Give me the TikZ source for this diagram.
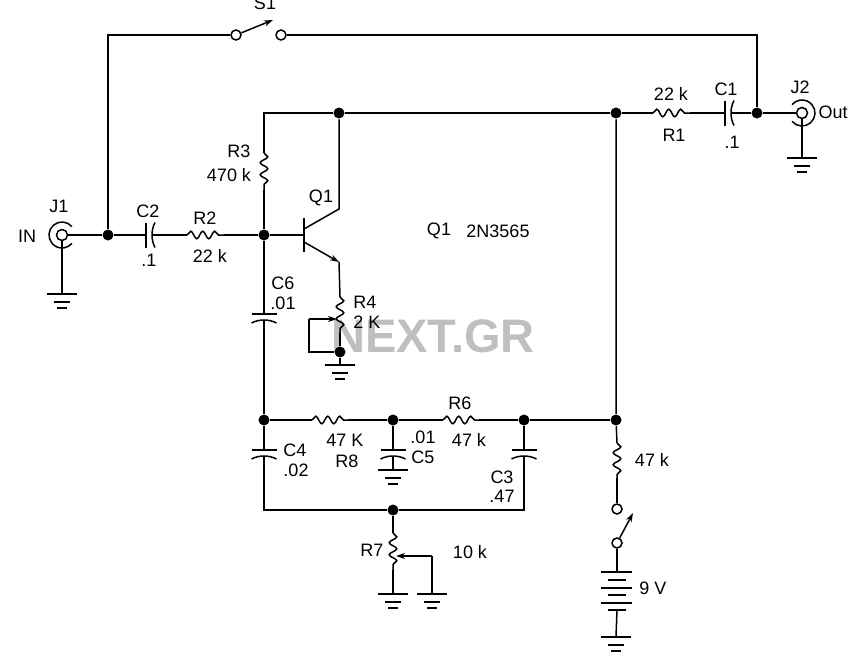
\documentclass[tikz,border=0pt]{standalone}
\usepackage{fontspec}
\setmainfont{Liberation Sans}
\usetikzlibrary{arrows.meta,positioning,calc,decorations.pathmorphing}

\begin{document}
\begin{tikzpicture}[x=1pt,y=-1pt,line width=1.5pt,
    font=\fontsize{18}{20}\selectfont]
\tikzset{
    dot/.style={circle,fill=black,inner sep=0pt,minimum size=11pt},
    term/.style={circle,draw,fill=white,inner sep=0pt,minimum size=10pt},
    jack/.style={circle,draw,fill=white,inner sep=0pt,minimum size=11pt},
    lbl/.style={inner sep=0pt},
    res/.style={decorate,decoration={snake,segment length=12,amplitude=3.8}},
    tip/.style={->,>={Stealth[length=9pt,width=6pt]}},
    gnd/.pic={
        \draw (-15,0) -- (15,0);
        \draw (-8,8) -- (8,8);
        \draw (-5,14) -- (5,14);
    },
    cap/.pic={
        \draw (-12.5,0) -- (12.5,0);
        \draw (-12.5,9) .. controls (-5,5) and (5,5) .. (12.5,9);
    }
}
\useasboundingbox (0,0) rectangle (865,669);
% junctions
\node[dot] (in) at (108,235) {};
\node[dot] (base) at (264,235) {};
\node[dot] (coll) at (339,113) {};
\node[dot] (rail) at (616,113) {};
\node[dot] (out) at (757,113) {};
\node[dot] (wipe) at (340,352) {};
\node[dot] (mid) at (264,420) {};
\node[dot] (c5top) at (393,420) {};
\node[dot] (c3top) at (524,420) {};
\node[dot] (sup) at (616,420) {};
\node[dot] (low) at (393,510) {};
% jacks and switch contacts
\node[jack] (j1) at (62,235) {};
\node[jack] (j2) at (802,113) {};
\node[term] (s1a) at (236,35) {};
\node[term] (s1b) at (281,35) {};
\node[term] (s2a) at (617,509) {};
\node[term] (s2b) at (617,543) {};
% corners and component ends
\coordinate (tl) at (108,35);
\coordinate (tr) at (757,35);
\coordinate (railL) at (264,113);
\coordinate (c2a) at (146,235);
\coordinate (c2b) at (153,235);
\coordinate (r2a) at (187,235);
\coordinate (r2b) at (224,235);
\coordinate (r3a) at (264,153);
\coordinate (r3b) at (264,190);
\coordinate (r1a) at (653,113);
\coordinate (r1b) at (690,113);
\coordinate (c1a) at (725,113);
\coordinate (c1b) at (732,113);
\coordinate (qb) at (304,235);
\coordinate (qc) at (304,229);
\coordinate (qe) at (304,242);
\coordinate (qcTop) at (339,209);
\coordinate (qeEnd) at (339,262);
\coordinate (r4a) at (340,297);
\coordinate (r4b) at (340,333);
\coordinate (r4w) at (337,319);
\coordinate (r4l) at (309,319);
\coordinate (c6a) at (264,314);
\coordinate (c6b) at (264,320);
\coordinate (c4a) at (264,450);
\coordinate (c4b) at (264,456);
\coordinate (c5a) at (393,450);
\coordinate (c5b) at (393,456);
\coordinate (c3a) at (524,450);
\coordinate (c3b) at (524,456);
\coordinate (r8a) at (312,420);
\coordinate (r8b) at (348,420);
\coordinate (r6a) at (443,420);
\coordinate (r6b) at (479,420);
\coordinate (lowL) at (264,510);
\coordinate (lowR) at (524,510);
\coordinate (r7a) at (393,533);
\coordinate (r7b) at (393,570);
\coordinate (r7w) at (396,556);
\coordinate (r7r) at (432,556);
\coordinate (r5a) at (617,443);
\coordinate (r5b) at (617,478);
\coordinate (g1) at (62,294);
\coordinate (g2) at (802,158);
\coordinate (g3) at (340,365);
\coordinate (g4) at (393,470);
\coordinate (g5) at (393,594);
\coordinate (g6) at (432,594);
\coordinate (g7) at (616,637);
\coordinate (bat) at (617,572);
\coordinate (batEnd) at (617,610);
% wires
\draw (j1) -- (in) -- (c2a);
\draw (c2b) -- (r2a);
\draw (r2b) -- (base) -- (qb);
\draw (in) -- (tl) -- (s1a);
\draw (s1b) -- (tr) -- (out);
\draw (base) -- (r3b);
\draw (r3a) -- (railL) -- (coll) -- (rail) -- (r1a);
\draw (r1b) -- (c1a);
\draw (c1b) -- (out) -- (j2);
\draw (coll) -- (qcTop) -- (qc);
\draw (qeEnd) -- (r4a);
\draw (r4b) -- (wipe) -- (g3);
\draw (r4l) |- (wipe);
\draw (base) -- (c6a);
\draw (c6b) -- (mid);
\draw (mid) -- (r8a);
\draw (r8b) -- (c5top) -- (r6a);
\draw (r6b) -- (c3top) -- (sup);
\draw (rail) -- (sup) -- (r5a);
\draw (r5b) -- (s2a);
\draw (mid) -- (c4a);
\draw (c4b) -- (lowL) -- (low) -- (lowR) -- (c3b);
\draw (c3top) -- (c3a);
\draw (c5top) -- (c5a);
\draw (c5b) -- (g4);
\draw (low) -- (r7a);
\draw (r7b) -- (g5);
\draw (r7r) -- (g6);
\draw (s2b) -- (bat);
\draw (batEnd) -- (g7);
\draw (j1) -- (g1);
\draw (j2) -- (g2);
% resistors
\draw[res] (r2a) -- (r2b);
\draw[res] (r3a) -- (r3b);
\draw[res] (r1a) -- (r1b);
\draw[res] (r4a) -- (r4b);
\draw[res] (r8a) -- (r8b);
\draw[res] (r6a) -- (r6b);
\draw[res] (r7a) -- (r7b);
\draw[res] (r5a) -- (r5b);
% capacitors
\pic[rotate=90] at (c2a) {cap};
\pic[rotate=90] at (c1a) {cap};
\pic at (c6a) {cap};
\pic at (c4a) {cap};
\pic at (c5a) {cap};
\pic at (c3a) {cap};
% grounds
\foreach \g in {g1,g2,g3,g4,g5,g6,g7}
  \pic at (\g) {gnd};
% jack shells
\draw ([shift={(40:13pt)}]j1.center) arc[start angle=40,end angle=320,radius=13pt];
\draw ([shift={(-140:13pt)}]j2.center) arc[start angle=-140,end angle=140,radius=13pt];
% transistor
\draw[line width=1.8pt] (304,218) -- (304,252);
\draw[tip] (qe) -- (qeEnd);
% wipers and switch blades
\draw[tip] (r4l) -- (r4w);
\draw[tip] (r7r) -- (r7w);
\draw[tip] (s1a) -- (273,20);
\draw[tip] (s2b) -- (633,513);
% battery
\draw (601,572) -- (632,572);
\draw (608,580) -- (626,580);
\draw (601,588) -- (632,588);
\draw (608,595) -- (626,595);
\draw (601,603) -- (632,603);
\draw (608,610) -- (626,610);
% labels
\node[lbl] (lS1) at (265,3) {S1};
\node[lbl] (lIN) at (27,236) {IN};
\node[lbl] (lJ1) at (59,206) {J1};
\node[lbl] (lC2) at (148,211) {C2};
\node[lbl] (lC2v) at (149,260) {.1};
\node[lbl] (lR2) at (205,218) {R2};
\node[lbl] (lR2v) at (210,256) {22 k};
\node[lbl] (lR3) at (239,151) {R3};
\node[lbl] (lR3v) at (229,175) {470 k};
\node[lbl] (lQ1) at (321,198) {Q1};
\node[lbl] (lQ1t) at (439,231) {Q1};
\node[lbl] (lType) at (498,231) {2N3565};
\node[lbl] (lC6) at (283,283) {C6};
\node[lbl] (lC6v) at (283,303) {.01};
\node[lbl] (lR4) at (365,302) {R4};
\node[lbl] (lR4v) at (367,322) {2 K};
\node[lbl] (lR1v) at (671,94) {22 k};
\node[lbl] (lR1) at (674,135) {R1};
\node[lbl] (lC1) at (726,89) {C1};
\node[lbl] (lC1v) at (732,142) {.1};
\node[lbl] (lJ2) at (800,87) {J2};
\node[lbl] (lOut) at (833,112) {Out};
\node[lbl] (lC4) at (295,450) {C4};
\node[lbl] (lC4v) at (296,470) {.02};
\node[lbl] (lR8v) at (345,440) {47 K};
\node[lbl] (lR8) at (347,461) {R8};
\node[lbl] (lC5v) at (423,437) {.01};
\node[lbl] (lC5) at (423,457) {C5};
\node[lbl] (lR6) at (460,403) {R6};
\node[lbl] (lR6v) at (469,440) {47 k};
\node[lbl] (lC3) at (502,477) {C3};
\node[lbl] (lC3v) at (502,496) {.47};
\node[lbl] (lR7) at (372,550) {R7};
\node[lbl] (lR7v) at (470,552) {10 k};
\node[lbl] (lR5v) at (652,460) {47 k};
\node[lbl] (lBat) at (653,588) {9 V};
% watermark
\node[lbl,text=black,text opacity=.25,font=\fontsize{47}{48}\selectfont\bfseries] (mark) at (433,336) {NEXT.GR};
\end{tikzpicture}
\end{document}
